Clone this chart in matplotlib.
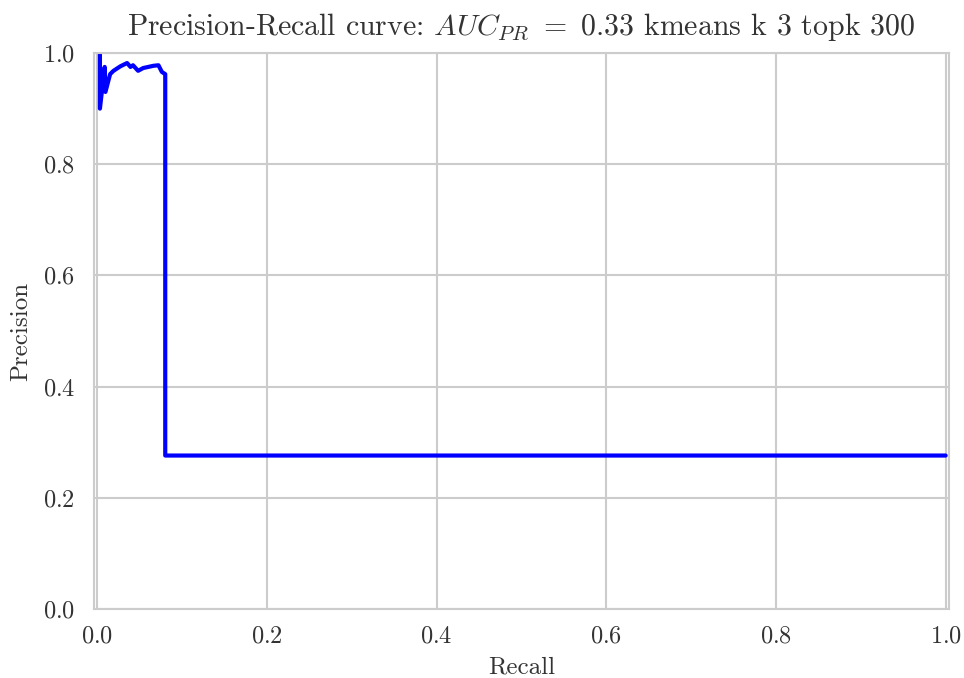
import matplotlib
matplotlib.use("Agg")
import matplotlib.pyplot as plt
import seaborn as sns

# precision-recall points
recall = [0.003, 0.003, 0.0086, 0.0095, 0.015, 0.019, 0.027, 0.035, 0.039, 0.042,
          0.048, 0.054, 0.060, 0.066, 0.072, 0.076, 0.080, 0.080, 1.0]
precision = [1.0, 0.90, 0.975, 0.93, 0.962, 0.968, 0.976, 0.982, 0.975, 0.978,
             0.968, 0.973, 0.975, 0.977, 0.978, 0.966, 0.962, 0.276, 0.276]

AUC = 0.33
METHOD = "kmeans"
K = 3
TOPK = 300

sns.set_style("whitegrid")
plt.rcParams["font.family"] = ["cmr10"]
plt.rcParams["mathtext.fontset"] = "cm"
plt.rcParams["axes.formatter.use_mathtext"] = True

fig = plt.figure(figsize=(9.64, 6.78), dpi=100)
ax = fig.add_axes([0.0975, 0.1018, 0.887, 0.82])
ax.plot(recall, precision, color="blue", linewidth=3)

ax.set_xlim(-0.004, 1.004)
ax.set_ylim(0.0, 1.0)
ax.set_xticks([0.0, 0.2, 0.4, 0.6, 0.8, 1.0])
ax.set_yticks([0.0, 0.2, 0.4, 0.6, 0.8, 1.0])
ax.grid(True, color="#cccccc", linewidth=1.5)
ax.tick_params(labelsize=17.5, colors="#333333")
ax.tick_params(axis="x", pad=8.5)
ax.tick_params(axis="y", pad=10)
for s in ax.spines.values():
    s.set_color("#cccccc")
    s.set_linewidth(1.5)
ax.set_xlabel("Recall", fontsize=18, color="#333333", labelpad=6)
ax.set_ylabel("Precision", fontsize=18, color="#333333", labelpad=8)
ax.set_title(rf"Precision-Recall curve: $AUC_{{PR}}\ =\ {AUC}$ {METHOD} k {K} topk {TOPK}",
             fontsize=21.5, color="#333333", pad=13)

fig.savefig("out.png", dpi=100)
